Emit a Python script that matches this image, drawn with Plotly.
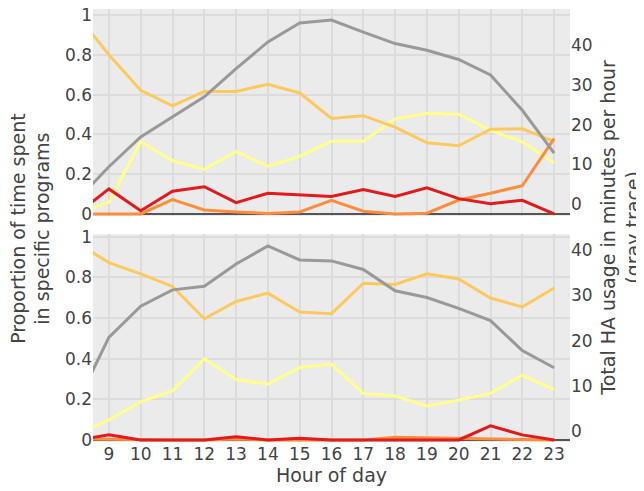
import plotly.graph_objects as go
from plotly.subplots import make_subplots

hours = [8, 9, 10, 11, 12, 13, 14, 15, 16, 17, 18, 19, 20, 21, 22, 23]

# Top panel (proportions, left axis)
top_lightorange = [1.0, 0.80, 0.621, 0.543, 0.616, 0.616, 0.652, 0.608, 0.480, 0.494, 0.436, 0.358, 0.343, 0.426, 0.428, 0.365]
top_yellow = [0.0, 0.06, 0.363, 0.268, 0.224, 0.314, 0.240, 0.289, 0.366, 0.366, 0.477, 0.506, 0.501, 0.420, 0.363, 0.256]
top_orange = [0.0, 0.0, 0.0, 0.072, 0.020, 0.010, 0.003, 0.010, 0.069, 0.014, 0.0, 0.004, 0.070, 0.104, 0.142, 0.379]
top_red = [0.0, 0.126, 0.016, 0.114, 0.137, 0.057, 0.104, 0.097, 0.088, 0.123, 0.088, 0.131, 0.077, 0.052, 0.069, 0.0]
# Top panel total usage (right axis, minutes per hour)
top_gray = [1.0, 9.4, 16.9, 22.0, 27.0, 34.1, 40.8, 45.6, 46.3, 43.3, 40.4, 38.7, 36.4, 32.5, 23.6, 12.8]

# Bottom panel
bot_lightorange = [0.97, 0.872, 0.817, 0.755, 0.596, 0.681, 0.722, 0.629, 0.621, 0.771, 0.765, 0.817, 0.792, 0.698, 0.654, 0.747]
bot_yellow = [0.026, 0.098, 0.188, 0.242, 0.400, 0.297, 0.275, 0.356, 0.373, 0.229, 0.216, 0.167, 0.196, 0.229, 0.319, 0.248]
bot_orange = [0.005, 0.003, 0.0, 0.0, 0.0, 0.005, 0.0, 0.0, 0.0, 0.0, 0.013, 0.010, 0.008, 0.005, 0.003, 0.0]
bot_red = [0.0, 0.025, 0.0, 0.0, 0.0, 0.016, 0.0, 0.008, 0.0, 0.0, 0.0, 0.0, 0.0, 0.069, 0.025, 0.0]
bot_gray = [6.3, 20.7, 27.6, 31.2, 32.0, 36.9, 40.9, 37.8, 37.6, 35.7, 31.0, 29.5, 27.1, 24.4, 17.8, 14.0]

left_ticks = [0, 0.2, 0.4, 0.6, 0.8, 1]
left_ticklabels = ["0", "0.2", "0.4", "0.6", "0.8", "1"]
right_ticks = [0, 10, 20, 30, 40]
x_ticks = list(range(9, 24))

C_YELLOW = "#FFFF8C"
C_LORANGE = "#FEC95C"
C_ORANGE = "#FD8D3C"
C_RED = "#E31A1C"
C_GRAY = "#999999"

fig = make_subplots(rows=2, cols=1, shared_xaxes=True,
                    specs=[[{"secondary_y": True}], [{"secondary_y": True}]])

def add_panel(row, yel, lor, ora, red, gray):
    for vals, col in [(yel, C_YELLOW), (lor, C_LORANGE), (ora, C_ORANGE), (red, C_RED)]:
        fig.add_trace(go.Scatter(x=hours, y=vals, mode="lines",
                                 line=dict(color=col, width=3), showlegend=False),
                      row=row, col=1, secondary_y=False)
    fig.add_trace(go.Scatter(x=hours, y=gray, mode="lines",
                             line=dict(color=C_GRAY, width=3), showlegend=False),
                  row=row, col=1, secondary_y=True)

add_panel(1, top_yellow, top_lightorange, top_orange, top_red, top_gray)
add_panel(2, bot_yellow, bot_lightorange, bot_orange, bot_red, bot_gray)

BG = "#EBEBEB"
GRID = "#DCDCDC"
TICKFONT = dict(family="DejaVu Sans", size=17, color="#444444")

fig.update_layout(
    width=644, height=491,
    margin=dict(l=85, r=82, t=1, b=57),
    paper_bgcolor="white",
    plot_bgcolor=BG,
    font=dict(family="DejaVu Sans", size=17, color="#444444"),
    showlegend=False,
)

# domains
fig.update_layout(
    yaxis=dict(domain=[0.522, 1.0]),
    yaxis2=dict(domain=[0.522, 1.0]),
    yaxis3=dict(domain=[0.0, 0.480]),
    yaxis4=dict(domain=[0.0, 0.480]),
)

for ax in ["xaxis", "xaxis2"]:
    fig.layout[ax].update(domain=[0.0, 1.0], range=[8.5, 23.5], tickvals=x_ticks,
                          ticktext=[str(h) for h in x_ticks],
                          showgrid=True, gridcolor=GRID, gridwidth=1.5, zeroline=False,
                          tickfont=TICKFONT, ticks="", showline=False, automargin=False)
fig.layout.xaxis.update(showticklabels=False)
fig.layout.xaxis2.update(showticklabels=True, title=dict(text="Hour of day", font=dict(size=19), standoff=4))

for ax, rng in [("yaxis", [-0.01, 1.03]), ("yaxis3", [-0.01, 1.012])]:
    fig.layout[ax].update(range=rng, tickvals=left_ticks, ticktext=left_ticklabels,
                          showgrid=True, gridcolor=GRID, gridwidth=1.5,
                          zeroline=True, zerolinecolor="#555555", zerolinewidth=1.5,
                          tickfont=TICKFONT, ticks="", showline=False, automargin=False,
                          ticklabeloverflow="allow")

fig.layout.yaxis2.update(range=[-3.0, 49.1], tickvals=right_ticks, showgrid=False, zeroline=False,
                         tickfont=TICKFONT, ticks="", showline=False, automargin=False,
                         ticklabeloverflow="allow")
fig.layout.yaxis4.update(range=[-2.4, 43.5], tickvals=right_ticks, showgrid=False, zeroline=False,
                         tickfont=TICKFONT, ticks="", showline=False, automargin=False,
                         ticklabeloverflow="allow")

fig.add_annotation(text="Proportion of time spent<br>in specific programs",
                   xref="paper", yref="paper", x=-0.1326, y=0.494,
                   xanchor="center", yanchor="middle", textangle=-90, showarrow=False,
                   font=dict(family="DejaVu Sans", size=19, color="#444444"))
fig.add_annotation(text="Total HA usage in minutes per hour<br>(gray trace)",
                   xref="paper", yref="paper", x=1.106, y=0.494,
                   xanchor="center", yanchor="middle", textangle=-90, showarrow=False,
                   font=dict(family="DejaVu Sans", size=19, color="#444444"))

fig.write_html("out.html")
